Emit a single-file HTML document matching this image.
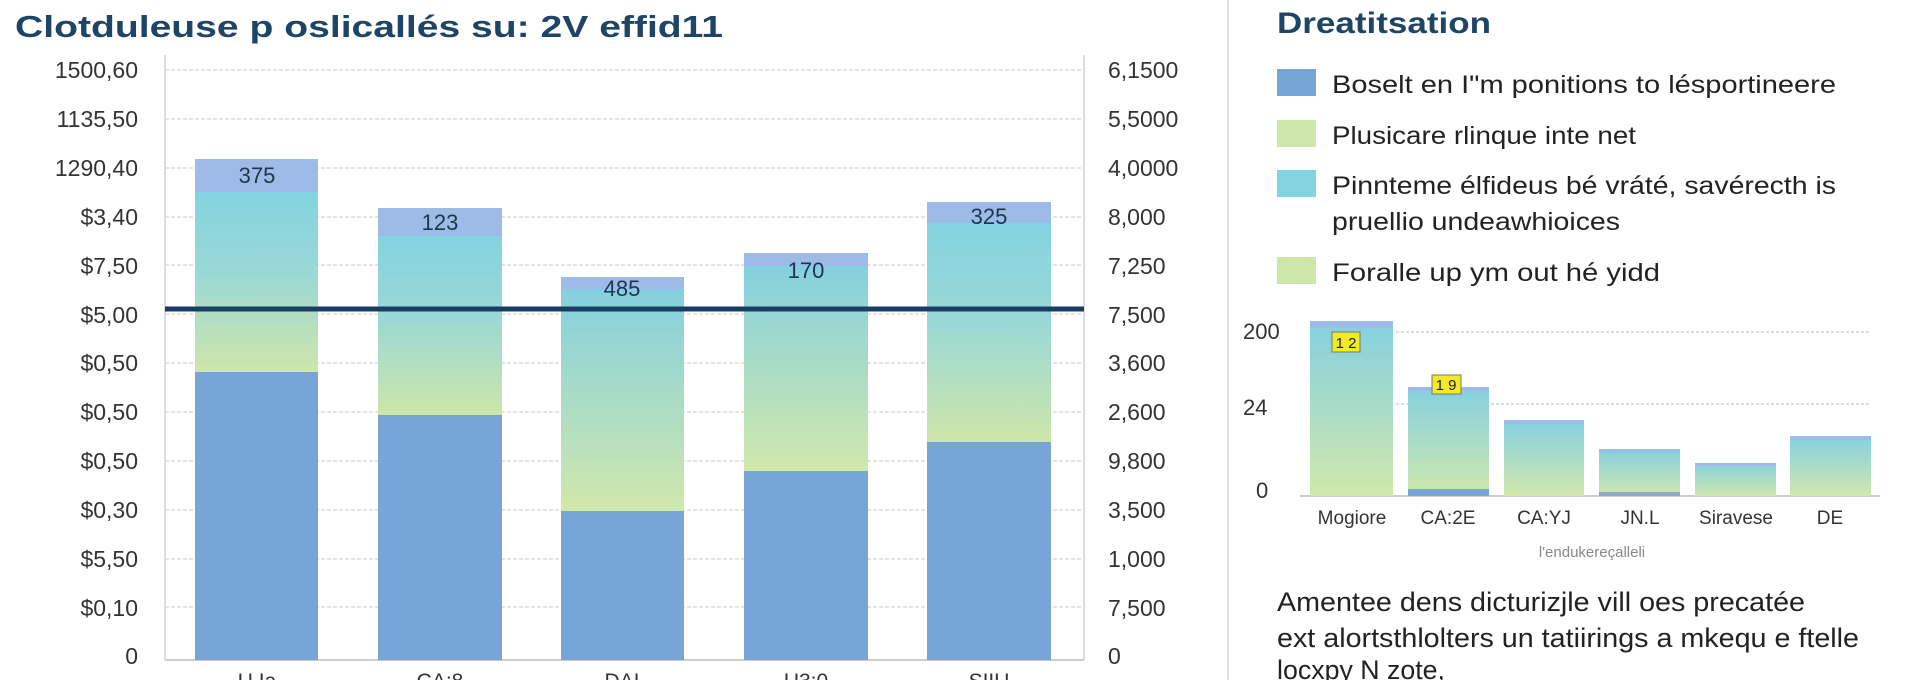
<!DOCTYPE html><html><head><meta charset="utf-8"><style>
body{margin:0;width:1920px;height:680px;background:#fff;overflow:hidden;font-family:"Liberation Sans",sans-serif;position:relative}
</style></head><body>
<svg width="1920" height="680" style="position:absolute;left:0;top:0" font-family="Liberation Sans, sans-serif">
<defs>
<linearGradient id="g" x1="0" y1="0" x2="0" y2="1"><stop offset="0" stop-color="#84d3e0"/><stop offset="0.45" stop-color="#9ad8d6"/><stop offset="1" stop-color="#cde6aa"/></linearGradient>
<linearGradient id="g2" x1="0" y1="0" x2="0" y2="1"><stop offset="0" stop-color="#84d0e0"/><stop offset="1" stop-color="#d0e8ac"/></linearGradient>
</defs>
<text x="15" y="37" font-size="31" font-weight="bold" fill="#1e4466" textLength="708" lengthAdjust="spacingAndGlyphs">Clotduleuse p oslicallés su: 2V effid11</text>
<text x="1277" y="33" font-size="30" font-weight="bold" fill="#1e4466" textLength="214" lengthAdjust="spacingAndGlyphs">Dreatitsation</text>
<line x1="1228" y1="0" x2="1228" y2="680" stroke="#e2e2e2" stroke-width="2"/>
<g stroke="#e4e4e4" stroke-width="2" stroke-dasharray="4,2">
<line x1="165" y1="70" x2="1084" y2="70"/><line x1="165" y1="119" x2="1084" y2="119"/><line x1="165" y1="168" x2="1084" y2="168"/><line x1="165" y1="217" x2="1084" y2="217"/><line x1="165" y1="265" x2="1084" y2="265"/><line x1="165" y1="314" x2="1084" y2="314"/><line x1="165" y1="363" x2="1084" y2="363"/><line x1="165" y1="412" x2="1084" y2="412"/><line x1="165" y1="461" x2="1084" y2="461"/><line x1="165" y1="510" x2="1084" y2="510"/><line x1="165" y1="559" x2="1084" y2="559"/><line x1="165" y1="607" x2="1084" y2="607"/>
</g>
<line x1="165" y1="55" x2="165" y2="660" stroke="#ddd" stroke-width="2"/>
<line x1="1084" y1="55" x2="1084" y2="660" stroke="#ddd" stroke-width="2"/>
<line x1="165" y1="660" x2="1084" y2="660" stroke="#ccc" stroke-width="2"/>
<g font-size="23" fill="#333" text-anchor="end">
<text x="138" y="78">1500,60</text><text x="138" y="127">1135,50</text><text x="138" y="176">1290,40</text><text x="138" y="225">$3,40</text><text x="138" y="274">$7,50</text><text x="138" y="323">$5,00</text><text x="138" y="371">$0,50</text><text x="138" y="420">$0,50</text><text x="138" y="469">$0,50</text><text x="138" y="518">$0,30</text><text x="138" y="567">$5,50</text><text x="138" y="616">$0,10</text><text x="138" y="664">0</text>
</g>
<g font-size="23" fill="#333">
<text x="1108" y="78">6,1500</text><text x="1108" y="127">5,5000</text><text x="1108" y="176">4,0000</text><text x="1108" y="225">8,000</text><text x="1108" y="274">7,250</text><text x="1108" y="323">7,500</text><text x="1108" y="371">3,600</text><text x="1108" y="420">2,600</text><text x="1108" y="469">9,800</text><text x="1108" y="518">3,500</text><text x="1108" y="567">1,000</text><text x="1108" y="616">7,500</text><text x="1108" y="664">0</text>
</g>
<g>
<rect x="195" y="192" width="123" height="180" fill="url(#g)"/><rect x="195" y="159" width="123" height="33" fill="#9dbbe6"/><rect x="195" y="372" width="123" height="288" fill="#77a5d8"/>
<rect x="378" y="236" width="124" height="179" fill="url(#g)"/><rect x="378" y="208" width="124" height="28" fill="#9dbbe6"/><rect x="378" y="415" width="124" height="245" fill="#77a5d8"/>
<rect x="561" y="289" width="123" height="222" fill="url(#g2)"/><rect x="561" y="277" width="123" height="12" fill="#9dbbe6"/><rect x="561" y="511" width="123" height="149" fill="#77a5d8"/>
<rect x="744" y="266" width="124" height="205" fill="url(#g2)"/><rect x="744" y="253" width="124" height="13" fill="#9dbbe6"/><rect x="744" y="471" width="124" height="189" fill="#77a5d8"/>
<rect x="927" y="223" width="124" height="219" fill="url(#g)"/><rect x="927" y="202" width="124" height="21" fill="#9dbbe6"/><rect x="927" y="442" width="124" height="218" fill="#77a5d8"/>
</g>
<g font-size="22" fill="#1e3550" text-anchor="middle">
<text x="257" y="183">375</text><text x="440" y="230">123</text><text x="622" y="296">485</text><text x="806" y="278">170</text><text x="989" y="224">325</text>
</g>
<line x1="165" y1="309" x2="1084" y2="309" stroke="#183f63" stroke-width="5"/>
<g font-size="21" fill="#333" text-anchor="middle"><text x="257" y="688">U.Ia</text><text x="440" y="688">CA:8</text><text x="622" y="688">DAI</text><text x="806" y="688">U3:0</text><text x="989" y="688">SIIU</text></g>
<rect x="1277" y="69" width="39" height="27" fill="#77a5d8"/>
<rect x="1277" y="120" width="39" height="27" fill="#cde6aa"/>
<rect x="1277" y="170" width="39" height="27" fill="#84d3e0"/>
<rect x="1277" y="257" width="39" height="27" fill="#cde6aa"/>
<g font-size="25" fill="#222">
<text x="1332" y="93" textLength="504" lengthAdjust="spacingAndGlyphs">Boselt en I"m ponitions to lésportineere</text>
<text x="1332" y="144" textLength="304" lengthAdjust="spacingAndGlyphs">Plusicare rlinque inte net</text>
<text x="1332" y="194" textLength="504" lengthAdjust="spacingAndGlyphs">Pinnteme élfideus bé vráté, savérecth is</text>
<text x="1332" y="230" textLength="288" lengthAdjust="spacingAndGlyphs">pruellio undeawhioices</text>
<text x="1332" y="281" textLength="328" lengthAdjust="spacingAndGlyphs">Foralle up ym out hé yidd</text>
</g>
<g stroke="#ddd" stroke-width="2" stroke-dasharray="3,2"><line x1="1396" y1="332" x2="1871" y2="332"/><line x1="1396" y1="404" x2="1871" y2="404"/></g>
<line x1="1300" y1="496" x2="1880" y2="496" stroke="#ccc" stroke-width="2"/>
<g font-size="22" fill="#333"><text x="1243" y="339">200</text><text x="1243" y="415">24</text><text x="1256" y="498">0</text></g>
<rect x="1310" y="321" width="83" height="175" fill="url(#g2)"/><rect x="1310" y="321" width="83" height="7" fill="#9dbbe6"/>
<rect x="1408" y="387" width="81" height="109" fill="url(#g2)"/><rect x="1408" y="387" width="81" height="4" fill="#9dbbe6"/><rect x="1408" y="489" width="81" height="7" fill="#77a5d8"/>
<rect x="1504" y="420" width="80" height="76" fill="url(#g2)"/><rect x="1504" y="420" width="80" height="4" fill="#9dbbe6"/>
<rect x="1599" y="449" width="81" height="47" fill="url(#g2)"/><rect x="1599" y="449" width="81" height="3" fill="#9dbbe6"/><rect x="1599" y="492" width="81" height="4" fill="#8fa8c8"/>
<rect x="1695" y="463" width="81" height="33" fill="url(#g2)"/><rect x="1695" y="463" width="81" height="3" fill="#9dbbe6"/>
<rect x="1790" y="436" width="81" height="60" fill="url(#g2)"/><rect x="1790" y="436" width="81" height="4" fill="#9dbbe6"/>
<rect x="1332" y="332" width="28" height="20" fill="#f2e92a" stroke="#777"/><text x="1346" y="348" font-size="15" text-anchor="middle" fill="#222">1 2</text>
<rect x="1432" y="375" width="29" height="19" fill="#f2e92a" stroke="#777"/><text x="1446" y="390" font-size="15" text-anchor="middle" fill="#222">1 9</text>
<g font-size="19" fill="#333" text-anchor="middle"><text x="1352" y="524">Mogiore</text><text x="1448" y="524">CA:2E</text><text x="1544" y="524">CA:YJ</text><text x="1640" y="524">JN.L</text><text x="1736" y="524">Siravese</text><text x="1830" y="524">DE</text></g>
<text x="1592" y="557" font-size="15" fill="#888" text-anchor="middle">l'endukereçalleli</text>
<g font-size="27" fill="#222"><text x="1277" y="611" textLength="528" lengthAdjust="spacingAndGlyphs">Amentee dens dicturizjle vill oes precatée</text><text x="1277" y="647" textLength="582" lengthAdjust="spacingAndGlyphs">ext alortsthlolters un tatiirings a mkequ e ftelle</text><text x="1277" y="679" textLength="168" lengthAdjust="spacingAndGlyphs">locxpy N zote,</text></g>
</svg>
</body></html>
